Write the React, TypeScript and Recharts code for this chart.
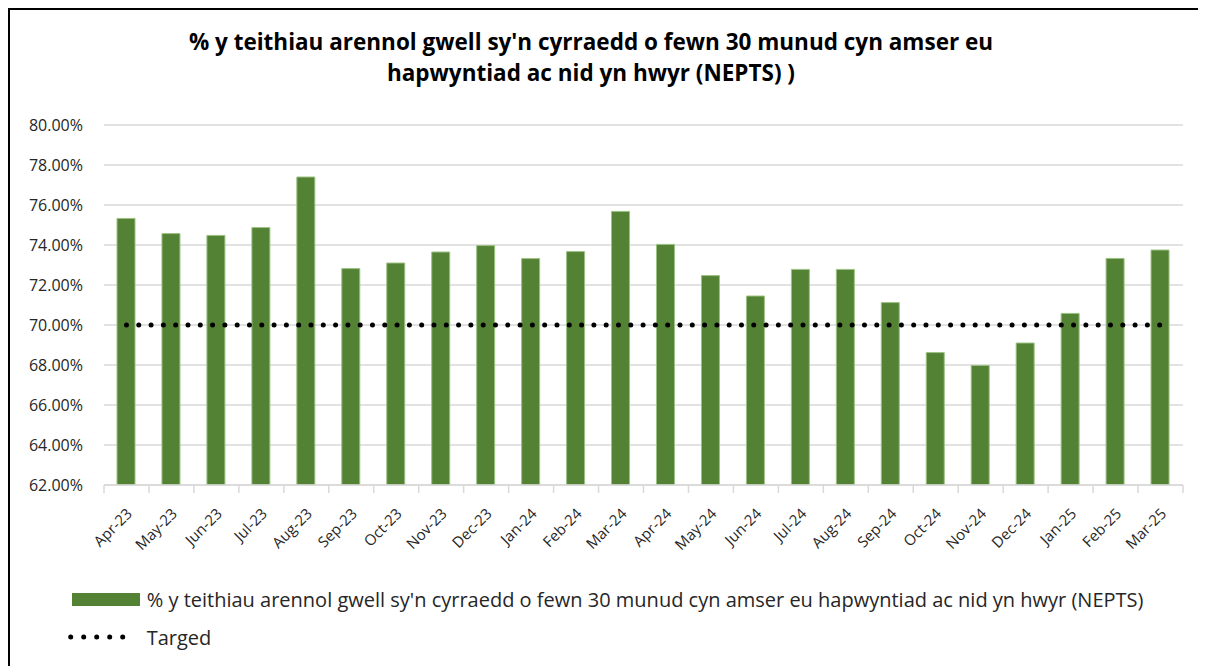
import { Bar, CartesianGrid, ComposedChart, Line, XAxis, YAxis } from "recharts"

const months = [
  "Apr-23", "May-23", "Jun-23", "Jul-23", "Aug-23", "Sep-23", "Oct-23", "Nov-23",
  "Dec-23", "Jan-24", "Feb-24", "Mar-24", "Apr-24", "May-24", "Jun-24", "Jul-24",
  "Aug-24", "Sep-24", "Oct-24", "Nov-24", "Dec-24", "Jan-25", "Feb-25", "Mar-25",
]

const onTime = [
  75.33, 74.57, 74.48, 74.87, 77.4, 72.82, 73.1, 73.65,
  73.97, 73.32, 73.67, 75.68, 74.03, 72.47, 71.45, 72.78,
  72.78, 71.12, 68.62, 67.98, 69.1, 70.58, 73.33, 73.75,
]

const target = 70

const yTicks = [62, 64, 66, 68, 70, 72, 74, 76, 78, 80]

const seriesName =
  "% y teithiau arennol gwell sy'n cyrraedd o fewn 30 munud cyn amser eu hapwyntiad ac nid yn hwyr (NEPTS)"

const data = months.map((month, i) => ({
  month,
  onTime: onTime[i],
  target,
}))

const CHART_W = 1190
const CHART_H = 560
const margin = { top: 115, right: 17, bottom: 15, left: 10 }
const Y_AXIS_W = 84
const PLOT_W = CHART_W - margin.left - margin.right - Y_AXIS_W
const STEP = PLOT_W / months.length

const font = "'Open Sans', 'Noto Sans', sans-serif"
const grey = "#d9d9d9"
const green = "#548235"

function MonthTick(props: any) {
  const { x, y, payload, index } = props
  const half = STEP / 2
  const tx = x + 3
  const ty = y + 26
  return (
    <g>
      <line x1={x - half} x2={x - half} y1={y} y2={y + 8} stroke={grey} strokeWidth={1.5} />
      {index === months.length - 1 && (
        <line x1={x + half} x2={x + half} y1={y} y2={y + 8} stroke={grey} strokeWidth={1.5} />
      )}
      <text
        x={tx}
        y={ty}
        dy="0.35em"
        textAnchor="end"
        transform={`rotate(-45 ${tx} ${ty})`}
        fontSize={15}
        fontFamily={font}
        fill="#262626"
      >
        {payload.value}
      </text>
    </g>
  )
}

export default function App() {
  return (
    <div
      style={{
        position: "relative",
        width: 1200,
        height: 670,
        border: "2px solid #000",
        background: "#fff",
        fontFamily: font,
        color: "#262626",
      }}
    >
      <style>{"html,body{overflow:hidden}"}</style>
      <div
        style={{
          position: "absolute",
          left: 0,
          top: 16,
          width: 1162,
          textAlign: "center",
          fontWeight: 700,
          fontSize: 22.5,
          lineHeight: "31px",
          color: "#000",
        }}
      >
        % y teithiau arennol gwell sy'n cyrraedd o fewn 30 munud cyn amser eu
        <br />
        hapwyntiad ac nid yn hwyr (NEPTS) )
      </div>

      <ComposedChart width={CHART_W} height={CHART_H} data={data} margin={margin}>
        <CartesianGrid vertical={false} stroke={grey} strokeWidth={1.5} />
        <XAxis
          dataKey="month"
          interval={0}
          height={70}
          tickSize={0}
          tickMargin={0}
          axisLine={{ stroke: grey, strokeWidth: 1.5 }}
          tick={<MonthTick />}
        />
        <YAxis
          width={Y_AXIS_W}
          domain={[62, 80]}
          ticks={yTicks}
          allowDataOverflow
          axisLine={false}
          tickLine={false}
          tickMargin={15}
          tickFormatter={(v: number) => `${v.toFixed(2)}%`}
          tick={{ fontSize: 16, fontFamily: font, fill: "#262626" }}
        />
        <Bar
          dataKey="onTime"
          name={seriesName}
          fill={green}
          stroke="#9cc283"
          strokeWidth={1}
          barSize={18}
          isAnimationActive={false}
        />
        <Line
          dataKey="target"
          name="Targed"
          stroke="#000"
          strokeWidth={5}
          strokeDasharray="0 12.3"
          strokeLinecap="round"
          dot={false}
          activeDot={false}
          isAnimationActive={false}
        />
      </ComposedChart>

      <div style={{ position: "absolute", left: 58, top: 570, fontSize: 20 }}>
        <div style={{ display: "flex", alignItems: "center", height: 38 }}>
          <span style={{ display: "inline-block", width: 68, height: 13, background: green, marginLeft: 3.7, marginRight: 7 }} />
          <span>{seriesName}</span>
        </div>
        <div style={{ display: "flex", alignItems: "center", height: 38 }}>
          <svg width={78.7} height={10}>
            <line x1={2.7} x2={67.7} y1={5} y2={5} stroke="#000" strokeWidth={5} strokeDasharray="0 13" strokeLinecap="round" />
          </svg>
          <span>Targed</span>
        </div>
      </div>
    </div>
  )
}
